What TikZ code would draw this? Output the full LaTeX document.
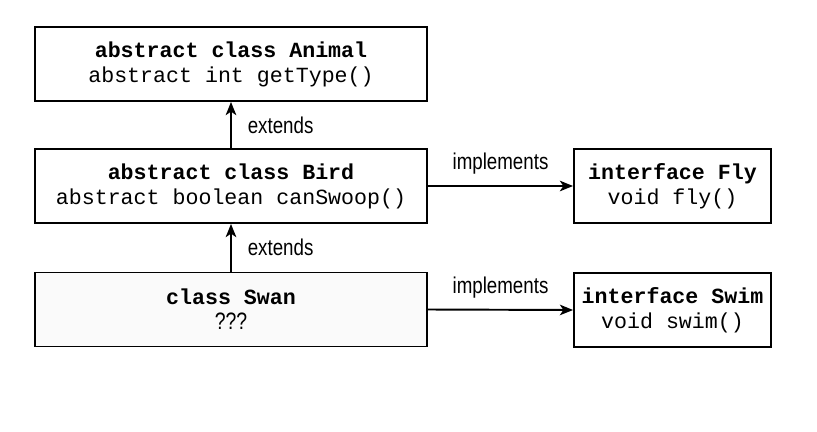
\documentclass[tikz,border=0pt]{standalone}
\usepackage{fontspec}
\newfontfamily\codefont{Liberation Mono}
\newfontfamily\labelfont[FakeStretch=0.82]{Liberation Sans}
\usetikzlibrary{shapes.geometric, arrows.meta}
\usetikzlibrary{positioning}

\begin{document}
\begin{tikzpicture}

   %Styles of boxes and arrows
   \tikzstyle{classbox} = [rectangle, minimum width=7.84cm, minimum height=1.48cm, align=center, draw=black, line width=1.1pt, font=\codefont\fontsize{12.3}{14.2}\selectfont]
   \tikzstyle{ifacebox} = [classbox, minimum width=3.94cm]
   \tikzstyle{arrow} = [line width=1.1pt,-{Stealth[length=7.5pt,width=6pt,inset=2pt]}]
   \tikzstyle{rellabel} = [font=\labelfont\fontsize{13}{15}\selectfont]

   %Page size
   \useasboundingbox (0,0) rectangle (16.34,8.62);

   %Boxes
   \node[classbox] (animal) at (4.62,7.34) {\textbf{abstract class Animal}\\abstract int getType()};
   \node[classbox] (bird) at (4.62,4.90) {\textbf{abstract class Bird}\\abstract boolean canSwoop()};
   \node[classbox, fill=black!2] (swan) at (4.62,2.43) {\textbf{class Swan}\\{\labelfont\fontsize{13.5}{15}\selectfont ???}};
   \node[ifacebox] (fly) at (13.45,4.90) {\textbf{interface Fly}\\void fly()};
   \node[ifacebox] (swim) at (13.45,2.42) {\textbf{interface Swim}\\void swim()};

   %Arrows
   \draw[arrow] (bird.north) -- node[rellabel, right=0.2cm] {extends} (animal.south);
   \draw[arrow] (swan.north) -- node[rellabel, right=0.2cm] {extends} (bird.south);
   \draw[arrow] (bird.east) -- node[rellabel, above=0.1cm] {implements} (fly.west);
   \draw[arrow] (swan.east) -- node[rellabel, above=0.1cm] {implements} (swim.west);

\end{tikzpicture}
\end{document}
